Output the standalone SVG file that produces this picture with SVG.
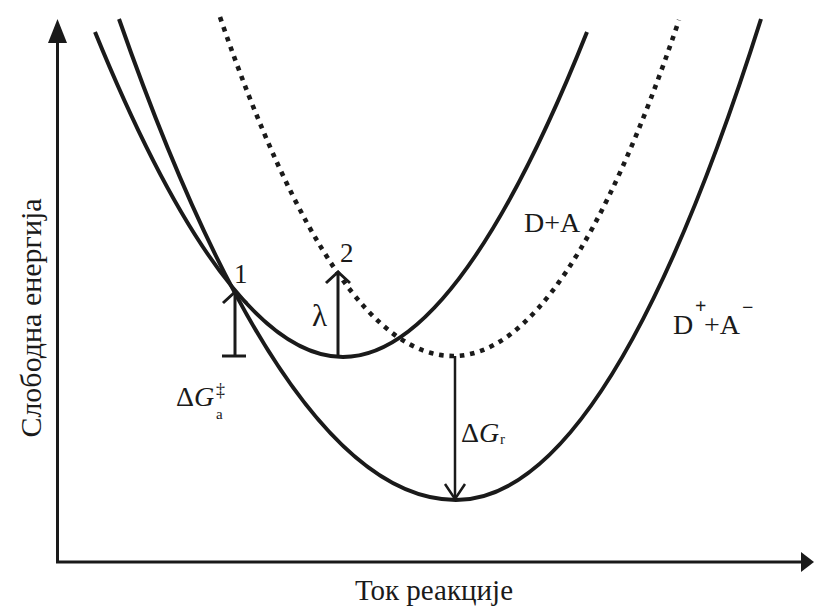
<svg xmlns="http://www.w3.org/2000/svg" width="815" height="607" viewBox="0 0 815 607">
<defs>
<style>
.curve{fill:none;stroke:#1a1a1a;stroke-width:4}
.dots{fill:none;stroke:#1a1a1a;stroke-width:4.6;stroke-dasharray:4.6 5.8}
.axis{fill:none;stroke:#1a1a1a;stroke-width:3}
.arr{fill:none;stroke:#1a1a1a;stroke-width:3}
text{font-family:"Liberation Serif","Times New Roman",serif;fill:#1a1a1a}
</style>
<marker id="chev" markerUnits="userSpaceOnUse" viewBox="-14 -14 16 28" refX="0" refY="0" markerWidth="16" markerHeight="28" orient="auto" overflow="visible">
<path d="M-11,-12 L0,0 L-11,12" fill="none" stroke="#1a1a1a" stroke-width="3"/>
</marker>
<marker id="chev2" markerUnits="userSpaceOnUse" viewBox="-16 -12 18 24" refX="0" refY="0" markerWidth="18" markerHeight="24" orient="auto" overflow="visible">
<path d="M-15,-10 L0,0 L-15,10" fill="none" stroke="#1a1a1a" stroke-width="2.5"/>
</marker>
</defs>
<rect width="815" height="607" fill="#ffffff"/>
<g id="axes">
<line class="axis" x1="57.5" y1="563" x2="57.5" y2="40"/>
<polygon points="57.5,19 48,43 67,43" fill="#1a1a1a"/>
<line class="axis" x1="56" y1="562" x2="803" y2="562"/>
<polygon points="814,562 801,552 801,572" fill="#1a1a1a"/>
<text font-family="Liberation Serif, serif" x="434" y="600" font-size="29" text-anchor="middle">Ток реакције</text>
<text font-family="Liberation Serif, serif" font-size="30" text-anchor="middle" transform="translate(41,318) rotate(-90)">Слободна енергија</text>
</g>
<g id="curve-DA">
<path class="curve" d="M95,32 C185,252.5 268,357 343,357 C418,357 499,252.5 587,32"/>
<text font-family="Liberation Serif, serif" x="524" y="232" font-size="28">D+A</text>
</g>
<g id="curve-DA-shifted">
<path class="dots" d="M220,17 Q336.5,356 453,356 Q566,356 679,20"/>
</g>
<g id="curve-DpAm">
<path class="curve" d="M119,19 Q287.5,500 456,500 Q608.5,500 761,19"/>
<text font-family="Liberation Serif, serif" x="673" y="334" font-size="28">D</text>
<text font-family="Liberation Serif, serif" x="695" y="313" font-size="20" font-weight="bold">+</text>
<text font-family="Liberation Serif, serif" x="704" y="334" font-size="28">+A</text>
<text font-family="Liberation Serif, serif" x="742" y="314" font-size="20" font-weight="bold">−</text>
</g>
<g id="connectors">
<line class="arr" x1="235" y1="356" x2="235" y2="292" marker-end="url(#chev)"/>
<line class="arr" x1="222" y1="356" x2="246" y2="356"/>
<line class="arr" x1="338" y1="357" x2="338" y2="272" marker-end="url(#chev)"/>
<line x1="455" y1="356" x2="455" y2="499" stroke="#1a1a1a" stroke-width="2.5" marker-end="url(#chev2)"/>
</g>
<g id="labels">
<text font-family="Liberation Serif, serif" x="234" y="283" font-size="27">1</text>
<text font-family="Liberation Serif, serif" x="340" y="262" font-size="27">2</text>
<text font-family="Liberation Serif, serif" x="312" y="326" font-size="31">λ</text>
<text font-family="Liberation Serif, serif" x="176" y="406" font-size="28">Δ<tspan font-style="italic">G</tspan></text>
<text font-family="Liberation Serif, serif" x="216" y="396" font-size="18">‡</text>
<text font-family="Liberation Serif, serif" x="216" y="419" font-size="15">a</text>
<text font-family="Liberation Serif, serif" x="461" y="442" font-size="28">Δ<tspan font-style="italic">G</tspan></text>
<text font-family="Liberation Serif, serif" x="500" y="444" font-size="15">r</text>
</g>
</svg>
